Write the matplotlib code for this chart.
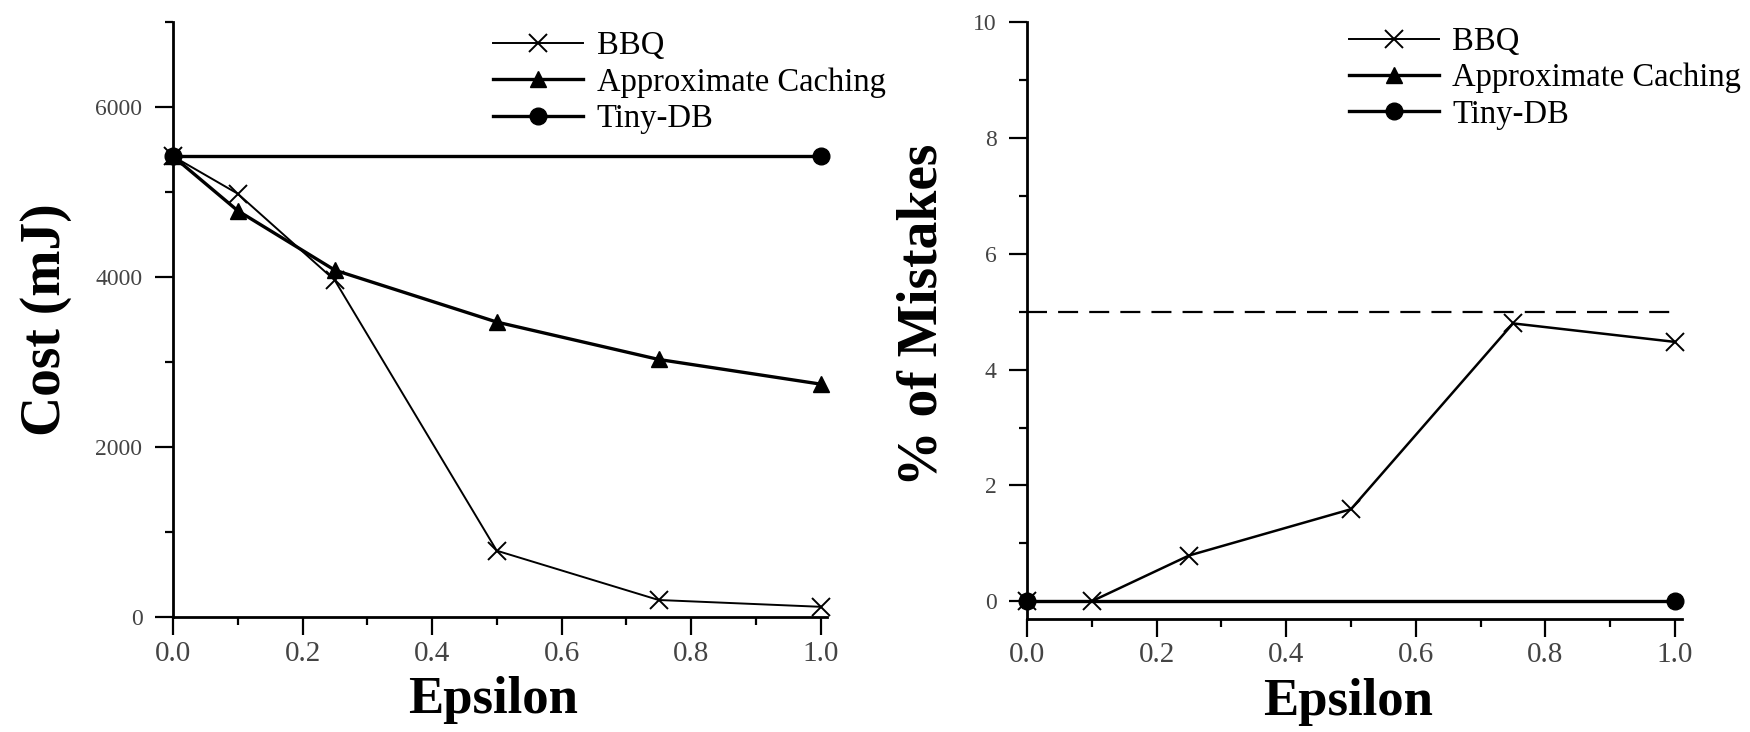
import matplotlib

matplotlib.use("Agg")
import matplotlib.pyplot as plt  # noqa: E402
from matplotlib.lines import Line2D  # noqa: E402
from matplotlib.ticker import MultipleLocator  # noqa: E402

plt.rcParams["font.family"] = ["Liberation Serif", "DejaVu Serif"]

# data
epsilon = [0.0, 0.1, 0.25, 0.5, 0.75, 1.0]
cost_bbq = [5420, 4980, 3960, 780, 200, 120]
cost_caching = [5420, 4780, 4080, 3470, 3030, 2740]
tinydb_x = [0.0, 1.0]
cost_tinydb = [5420, 5420]

mistakes_bbq = [0.0, 0.0, 0.79, 1.59, 4.80, 4.48]
mistakes_tinydb = [0.0, 0.0]
mistake_bound_x = [0.0, 1.0]
mistake_bound = [5.0, 5.0]

labels = ["BBQ", "Approximate Caching", "Tiny-DB"]
xticks = [0.0, 0.2, 0.4, 0.6, 0.8, 1.0]

W, H = 1750, 732
fig = plt.figure(figsize=(W / 100, H / 100), dpi=100)
ax1 = fig.add_axes([173 / W, (H - 617) / H, 654 / W, 595 / H])
ax2 = fig.add_axes([1027 / W, (H - 618.6) / H, 654.5 / W, 596.2 / H])

bbq_style = dict(color="black", lw=1.4, marker="x", ms=13, mew=1.4, clip_on=False)
cache_style = dict(color="black", lw=2.4, marker="^", ms=11, clip_on=False)
tiny_style = dict(color="black", lw=2.4, marker="o", ms=12, clip_on=False)


def style_axis(ax):
    for side in ("top", "right"):
        ax.spines[side].set_visible(False)
    for side in ("left", "bottom"):
        ax.spines[side].set_linewidth(2.0)
    ax.set_xticks(xticks)
    ax.set_xticklabels([f"{t:.1f}" for t in xticks])
    ax.xaxis.set_minor_locator(MultipleLocator(0.1))
    ax.set_xlim(0, 1.01)
    ax.tick_params(which="major", length=13, width=1.6, direction="out",
                   labelsize=17, labelcolor="#444444")
    ax.tick_params(which="minor", length=6, width=1.6, direction="out")
    ax.tick_params(axis="x", pad=4, labelsize=21)
    ax.tick_params(axis="y", pad=9)
    ax.set_xlabel("Epsilon", fontsize=38, fontweight="bold")
    ax.xaxis.set_label_coords(0.49, -0.1)


# left panel: cost
ax1.plot(epsilon, cost_bbq, label=labels[0], **bbq_style)
ax1.plot(epsilon, cost_caching, label=labels[1], **cache_style)
ax1.plot(tinydb_x, cost_tinydb, label=labels[2], **tiny_style)
ax1.set_ylim(0, 7000)
ax1.set_yticks([0, 2000, 4000, 6000])
ax1.yaxis.set_minor_locator(MultipleLocator(1000))
style_axis(ax1)
ax1.set_ylabel("Cost (mJ)", fontsize=40, fontweight="bold")
ax1.yaxis.set_label_coords(-0.155, 0.5)

# right panel: % of mistakes
ax2.plot(mistake_bound_x, mistake_bound, color="black", lw=1.6,
         dashes=(9, 5), clip_on=False)
ax2.plot(epsilon, mistakes_bbq, **dict(bbq_style, lw=1.8))
ax2.plot(tinydb_x, mistakes_tinydb, **tiny_style)
ax2.set_ylim(-0.3, 10)
ax2.set_yticks([0, 2, 4, 6, 8, 10])
ax2.yaxis.set_minor_locator(MultipleLocator(1))
style_axis(ax2)
ax2.set_ylabel("% of Mistakes", fontsize=40, fontweight="bold")
ax2.yaxis.set_label_coords(-0.12, 0.51)

handles = [Line2D([], [], **bbq_style),
           Line2D([], [], **cache_style),
           Line2D([], [], **tiny_style)]
legend_opts = dict(loc="upper left", frameon=False, fontsize=23.5,
                   handlelength=2.75, handletextpad=0.42, labelspacing=0.18,
                   borderpad=0, borderaxespad=0)
ax1.legend(handles, labels, bbox_to_anchor=(0.49, 0.985), **legend_opts)
ax2.legend(handles, labels, bbox_to_anchor=(0.492, 0.993), **legend_opts)

fig.savefig("out.png", dpi=100)
